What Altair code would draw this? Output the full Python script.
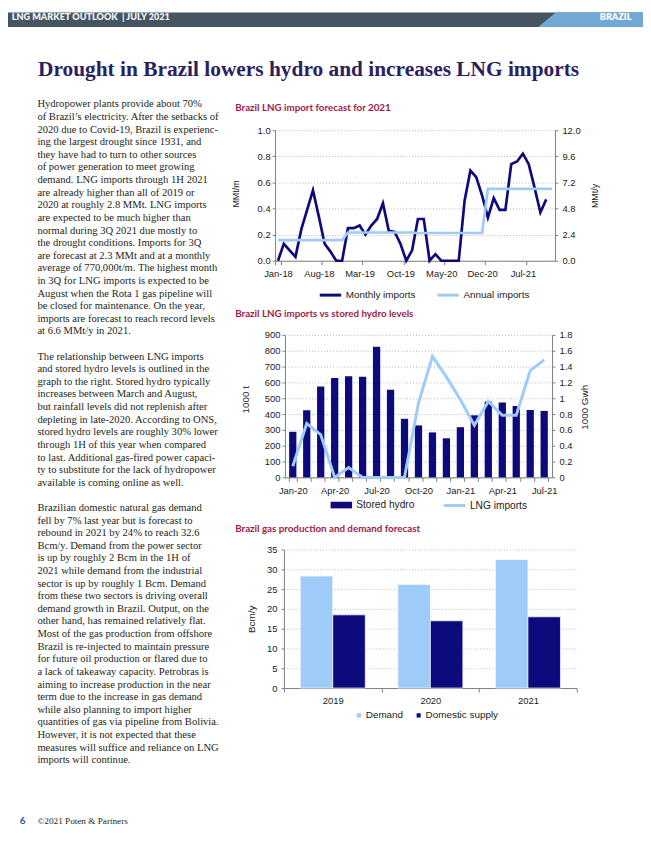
import altair as alt
import pandas as pd

# ---------------- page text ----------------
header_left = "LNG MARKET OUTLOOK\u00a0\u00a0| JULY 2021"
header_right = "BRAZIL"
page_title = "Drought in Brazil lowers hydro and increases LNG imports"
paragraph_1 = [
    "Hydropower plants provide about 70%",
    "of Brazil\u2019s electricity. After the setbacks of",
    "2020 due to Covid-19, Brazil is experienc-",
    "ing the largest drought since 1931, and",
    "they have had to turn to other sources",
    "of power generation to meet growing",
    "demand. LNG imports through 1H 2021",
    "are already higher than all of 2019 or",
    "2020 at roughly 2.8 MMt. LNG imports",
    "are expected to be much higher than",
    "normal during 3Q 2021 due mostly to",
    "the drought conditions. Imports for 3Q",
    "are forecast at 2.3 MMt and at a monthly",
    "average of 770,000t/m. The highest month",
    "in 3Q for LNG imports is expected to be",
    "August when the Rota 1 gas pipeline will",
    "be closed for maintenance. On the year,",
    "imports are forecast to reach record levels",
    "at 6.6 MMt/y in 2021.",
]
paragraph_2 = [
    "The relationship between LNG imports",
    "and stored hydro levels is outlined in the",
    "graph to the right. Stored hydro typically",
    "increases between March and August,",
    "but rainfall levels did not replenish after",
    "depleting in late-2020. According to ONS,",
    "stored hydro levels are roughly 30% lower",
    "through 1H of this year when compared",
    "to last. Additional gas-fired power capaci-",
    "ty to substitute for the lack of hydropower",
    "available is coming online as well.",
]
paragraph_3 = [
    "Brazilian domestic natural gas demand",
    "fell by 7% last year but is forecast to",
    "rebound in 2021 by 24% to reach 32.6",
    "Bcm/y. Demand from the power sector",
    "is up by roughly 2 Bcm in the 1H of",
    "2021 while demand from the industrial",
    "sector is up by roughly 1 Bcm. Demand",
    "from these two sectors is driving overall",
    "demand growth in Brazil. Output, on the",
    "other hand, has remained relatively flat.",
    "Most of the gas production from offshore",
    "Brazil is re-injected to maintain pressure",
    "for future oil production or flared due to",
    "a lack of takeaway capacity. Petrobras is",
    "aiming to increase production in the near",
    "term due to the increase in gas demand",
    "while also planning to import higher",
    "quantities of gas via pipeline from Bolivia.",
    "However, it is not expected that these",
    "measures will suffice and reliance on LNG",
    "imports will continue.",
]
chart_titles = [
    "Brazil LNG import forecast for 2021",
    "Brazil LNG imports vs stored hydro levels",
    "Brazil gas production and demand forecast",
]
page_number = "6"
copyright_text = "\u00a92021 Poten & Partners"

# ---------------- chart 1 data ----------------
months_1 = list(pd.date_range("2018-01-01", "2021-12-01", freq="MS").strftime("%b-%y"))
month_ticks_1 = ["Jan-18", "Aug-18", "Mar-19", "Oct-19", "May-20", "Dec-20", "Jul-21"]
monthly_imports = [
    0.00, 0.13, 0.08, 0.03, 0.24, 0.39, 0.54, 0.34, 0.13, 0.07, 0.00, 0.00,
    0.25, 0.25, 0.27, 0.20, 0.27, 0.32, 0.44, 0.23, 0.22, 0.13, 0.00, 0.08,
    0.32, 0.32, 0.00, 0.05, 0.00, 0.00, 0.00, 0.00, 0.46, 0.69, 0.64, 0.50,
    0.33, 0.48, 0.39, 0.39, 0.74, 0.76, 0.82, 0.74, 0.56, 0.37, 0.47, None,
]
annual_imports = {2018: 1.9, 2019: 2.6, 2020: 2.55, 2021: 6.6}

# ---------------- chart 2 data ----------------
months_2 = list(pd.date_range("2020-01-01", "2021-07-01", freq="MS").strftime("%b-%y"))
month_labels_2 = ["Jan-20", "Apr-20", "Jul-20", "Oct-20", "Jan-21", "Apr-21", "Jul-21"]
stored_hydro = [288, 424, 574, 628, 639, 635, 825, 553, 370, 328, 284, 247,
                317, 392, 479, 473, 451, 425, 420]
lng_imports = [0.14, 0.68, 0.54, 0.00, 0.125, 0.00, 0.00, 0.00, 0.00, 0.94,
               1.53, 1.27, 0.98, 0.66, 0.96, 0.785, 0.785, 1.35, 1.485]

# ---------------- chart 3 data ----------------
years_3 = ["2019", "2020", "2021"]
demand_3 = [28.3, 26.2, 32.5]
supply_3 = [18.5, 17.0, 18.0]

# ---------------- styles ----------------
NAVY = "#0c0a7d"
LIGHT = "#9ecbf7"
SLATE = "#455561"
BANNER_BLUE = "#72a8d6"
TITLE_RED = "#9e1b47"
TITLE_NAVY = "#2a2260"
TEXT = "#231f20"
SANS = "Liberation Sans"
SERIF = "Liberation Serif"

one = pd.DataFrame({"k": [0]})


def text_mark(text, x, y, **kw):
    return alt.Chart(one).mark_text(text=text, **kw).encode(x=alt.value(x), y=alt.value(y))


# ---------------- page layer ----------------
header_rect = alt.Chart(one).mark_rect(color=SLATE).encode(
    x=alt.value(0), x2=alt.value(642), y=alt.value(0), y2=alt.value(14.7))
banner_df = pd.DataFrame({"bx": [536, 553.9, 642], "top": [14.7, 0, 0], "bottom": [14.7, 14.7, 14.7]})
banner = alt.Chart(banner_df).mark_area(color=BANNER_BLUE).encode(
    x=alt.X("bx:Q", scale=alt.Scale(domain=[0, 642], range=[0, 642], nice=False, zero=False), axis=None),
    y=alt.Y("top:Q", scale=alt.Scale(domain=[0, 14.7], range=[0, 14.7], nice=False, zero=False), axis=None),
    y2="bottom:Q")
head_l = text_mark(header_left, 3.7, 0.3, align="left", baseline="top", font="Lato",
                   fontWeight=800, fontSize=9.2, color="#eef1f3")
head_r = text_mark(header_right, 630.3, 0.3, align="right", baseline="top", font="Lato",
                   fontWeight=800, fontSize=9.2, color="#ffffff")
title = text_mark(page_title, 30.3, 64.7, align="left", baseline="alphabetic", font=SERIF,
                  fontWeight="bold", fontSize=21.6, color=TITLE_NAVY)

rows = []
r = 0
for para in [paragraph_1, paragraph_2, paragraph_3]:
    for line in para:
        rows.append({"row": r, "line": line})
        r += 1
    r += 1
body_df = pd.DataFrame(rows)
body = alt.Chart(body_df).mark_text(align="left", baseline="middle", font=SERIF, fontSize=10.7,
                                    color=TEXT).encode(
    x=alt.value(29.7),
    y=alt.Y("row:Q", scale=alt.Scale(domain=[0, 52], range=[93, 756], nice=False, zero=False), axis=None),
    text="line:N")

ct_layers = [
    text_mark(t, 229.7, yy, align="left", baseline="alphabetic", font="Lato", fontWeight="bold",
              fontSize=9.9, color=TITLE_RED)
    for t, yy in zip(chart_titles, [99.5, 307.7, 525.3])
]
foot_num = text_mark(page_number, 14.7, 820, align="center", baseline="alphabetic", font="Lato",
                     fontWeight="bold", fontSize=10, color="#2f5597")
foot_copy = text_mark(copyright_text, 29.7, 820, align="left", baseline="alphabetic", font=SERIF,
                      fontSize=9.3, color=TEXT)

page = alt.layer(header_rect, banner, head_l, head_r, title, body, *ct_layers, foot_num, foot_copy
                 ).resolve_scale(x="independent", y="independent").properties(width=270, height=119)


def spacer(w, h):
    return alt.Chart(one).mark_rect(opacity=0).encode(
        x=alt.value(0), x2=alt.value(1), y=alt.value(0), y2=alt.value(1)).properties(width=w, height=h)


# ---------------- chart 1 ----------------
df1 = pd.DataFrame({
    "month": months_1,
    "monthly": monthly_imports,
    "annual": [annual_imports[2000 + int(m[-2:])] for m in months_1],
})
x1 = alt.X("month:O", sort=months_1, bandPosition=0.5,
           scale=alt.Scale(type="band", paddingInner=0, paddingOuter=0),
           axis=alt.Axis(title=None, values=month_ticks_1, labelAngle=0, tickBand="extent",
                         tickSize=4, labelPadding=4))
series_scale_1 = alt.Scale(domain=["Monthly imports", "Annual imports"], range=[NAVY, LIGHT])
legend_1 = alt.Legend(title=None, orient="none", legendX=43.5, legendY=154, direction="horizontal",
                      symbolType="stroke", symbolSize=470, symbolStrokeWidth=3, labelFontSize=10,
                      labelOffset=3, columnPadding=15)
monthly_line = alt.Chart(df1).transform_calculate(series="'Monthly imports'").mark_line(
    strokeWidth=2.7).encode(
    x=x1,
    y=alt.Y("monthly:Q", scale=alt.Scale(domain=[0, 1], nice=False),
            axis=alt.Axis(title="MMt/m", values=[0, 0.2, 0.4, 0.6, 0.8, 1.0], format=".1f", grid=True,
                          tickSize=3, labelPadding=2, titleAngle=270, titleX=-40, titleY=64,
                          titleAlign="center", titleBaseline="middle", titleFontSize=9)),
    color=alt.Color("series:N", scale=series_scale_1, legend=legend_1))
annual_line = alt.Chart(df1).transform_calculate(series="'Annual imports'").mark_line(
    strokeWidth=2.7).encode(
    x=x1,
    y=alt.Y("annual:Q", scale=alt.Scale(domain=[0, 12], nice=False),
            axis=alt.Axis(title="MMt/y", orient="right", values=[0, 2.4, 4.8, 7.2, 9.6, 12], format=".1f",
                          grid=False, tickSize=3, labelPadding=4, titleAngle=270, titleX=40, titleY=66,
                          titleAlign="center", titleBaseline="middle", titleFontSize=9)),
    color=alt.Color("series:N", scale=series_scale_1, legend=legend_1))
chart1 = alt.layer(monthly_line, annual_line).resolve_scale(y="independent").properties(width=283, height=132)

# ---------------- chart 2 ----------------
df2 = pd.DataFrame({"month": months_2, "hydro": stored_hydro, "lng": lng_imports})
label_list = ",".join("'%s'" % m for m in month_labels_2)
x2_axis = alt.Axis(title=None, labelAngle=0, tickBand="extent", tickSize=4, labelPadding=4,
                   labelExpr="indexof([%s], datum.value) >= 0 ? datum.value : ''" % label_list)
x2_scale = alt.Scale(range=[10, 280], paddingInner=0.48, paddingOuter=0.3)
bars2 = alt.Chart(df2).transform_calculate(series="'Stored hydro'").mark_bar().encode(
    x=alt.X("month:O", sort=months_2, scale=x2_scale, axis=x2_axis),
    y=alt.Y("hydro:Q", scale=alt.Scale(domain=[0, 900], nice=False),
            axis=alt.Axis(title="1000 t", values=list(range(0, 901, 100)), format="d", grid=True, offset=-10,
                          tickSize=3, labelPadding=2, titleAngle=270, titleX=-40, titleY=65,
                          titleAlign="center", titleBaseline="middle")),
    fill=alt.Fill("series:N", scale=alt.Scale(domain=["Stored hydro"], range=[NAVY]),
                  legend=alt.Legend(title=None, orient="none", legendX=55, legendY=160,
                                    symbolType="M-1,-0.31L1,-0.31L1,0.31L-1,0.31Z", symbolSize=470,
                                    labelFontSize=10.3, labelOffset=3)))
line2 = alt.Chart(df2).transform_calculate(series="'LNG imports'").mark_line(strokeWidth=3).encode(
    x=alt.X("month:O", sort=months_2, scale=x2_scale, axis=x2_axis, bandPosition=0.5),
    y=alt.Y("lng:Q", scale=alt.Scale(domain=[0, 1.8], nice=False),
            axis=alt.Axis(title="1000 Gwh", orient="right", values=[0, 0.2, 0.4, 0.6, 0.8, 1.0, 1.2, 1.4, 1.6, 1.8],
                          format=".1~f", grid=False, tickSize=3, labelPadding=4, titleAngle=270,
                          titleX=32.4, titleY=72.7, titleAlign="center", titleBaseline="middle")),
    stroke=alt.Stroke("series:N", scale=alt.Scale(domain=["LNG imports"], range=[LIGHT]),
                      legend=alt.Legend(title=None, orient="none", legendX=169, legendY=160,
                                        symbolType="stroke", symbolSize=470, symbolStrokeWidth=3,
                                        labelFontSize=10.3, labelOffset=3)))
chart2 = alt.layer(bars2, line2).resolve_scale(y="independent").properties(width=280, height=144)

# ---------------- chart 3 ----------------
df3 = pd.DataFrame({
    "year": years_3 * 2,
    "series": ["Demand"] * 3 + ["Domestic supply"] * 3,
    "value": demand_3 + supply_3,
})
chart3 = alt.Chart(df3).mark_bar(stroke="white", strokeWidth=0.7).encode(
    x=alt.X("year:O", scale=alt.Scale(range=[9, 305], paddingInner=0, paddingOuter=0),
            axis=alt.Axis(title=None, labelAngle=0, tickBand="extent", tickSize=4, labelPadding=4)),
    xOffset=alt.XOffset("series:N", sort=["Demand", "Domestic supply"],
                        scale=alt.Scale(paddingInner=0, paddingOuter=0.5)),
    y=alt.Y("value:Q", scale=alt.Scale(domain=[0, 35], nice=False),
            axis=alt.Axis(title="Bcm/y", values=list(range(0, 36, 5)), grid=True, offset=-9, tickSize=3,
                          labelPadding=4, titleAngle=270, titleX=-33, titleY=70, titleAlign="center",
                          titleBaseline="middle")),
    color=alt.Color("series:N", scale=alt.Scale(domain=["Demand", "Domestic supply"], range=[LIGHT, NAVY]),
                    legend=alt.Legend(title=None, orient="none", legendX=79.7, legendY=162.5,
                                      direction="horizontal", symbolType="square", symbolSize=32,
                                      labelFontSize=10, labelOffset=2, columnPadding=9.5)),
).properties(width=305, height=140)

# ---------------- page assembly ----------------
chart = alt.concat(
    page, spacer(1, 1),
    spacer(1, 207), chart1,
    spacer(1, 217), chart2,
    spacer(1, 1), chart3,
    columns=2, spacing=0, bounds="flush", align="each",
).resolve_scale(
    color="independent", fill="independent", stroke="independent"
).resolve_legend(
    color="independent", fill="independent", stroke="independent"
).properties(padding=0, background="white").configure_view(strokeWidth=0).configure_axis(
    labelFont=SANS, labelFontSize=9.5, labelColor="#1a1a1a",
    titleFont=SANS, titleFontSize=10, titleFontWeight="normal", titleColor="#1a1a1a",
    domainColor="#808080", tickColor="#808080", gridColor="#b8b8b8", gridDash=[1, 2], gridWidth=1,
).configure_legend(labelFont=SANS, labelColor="#1a1a1a", padding=0)

chart.save("out.html", embed_options={"renderer": "svg", "actions": False})
